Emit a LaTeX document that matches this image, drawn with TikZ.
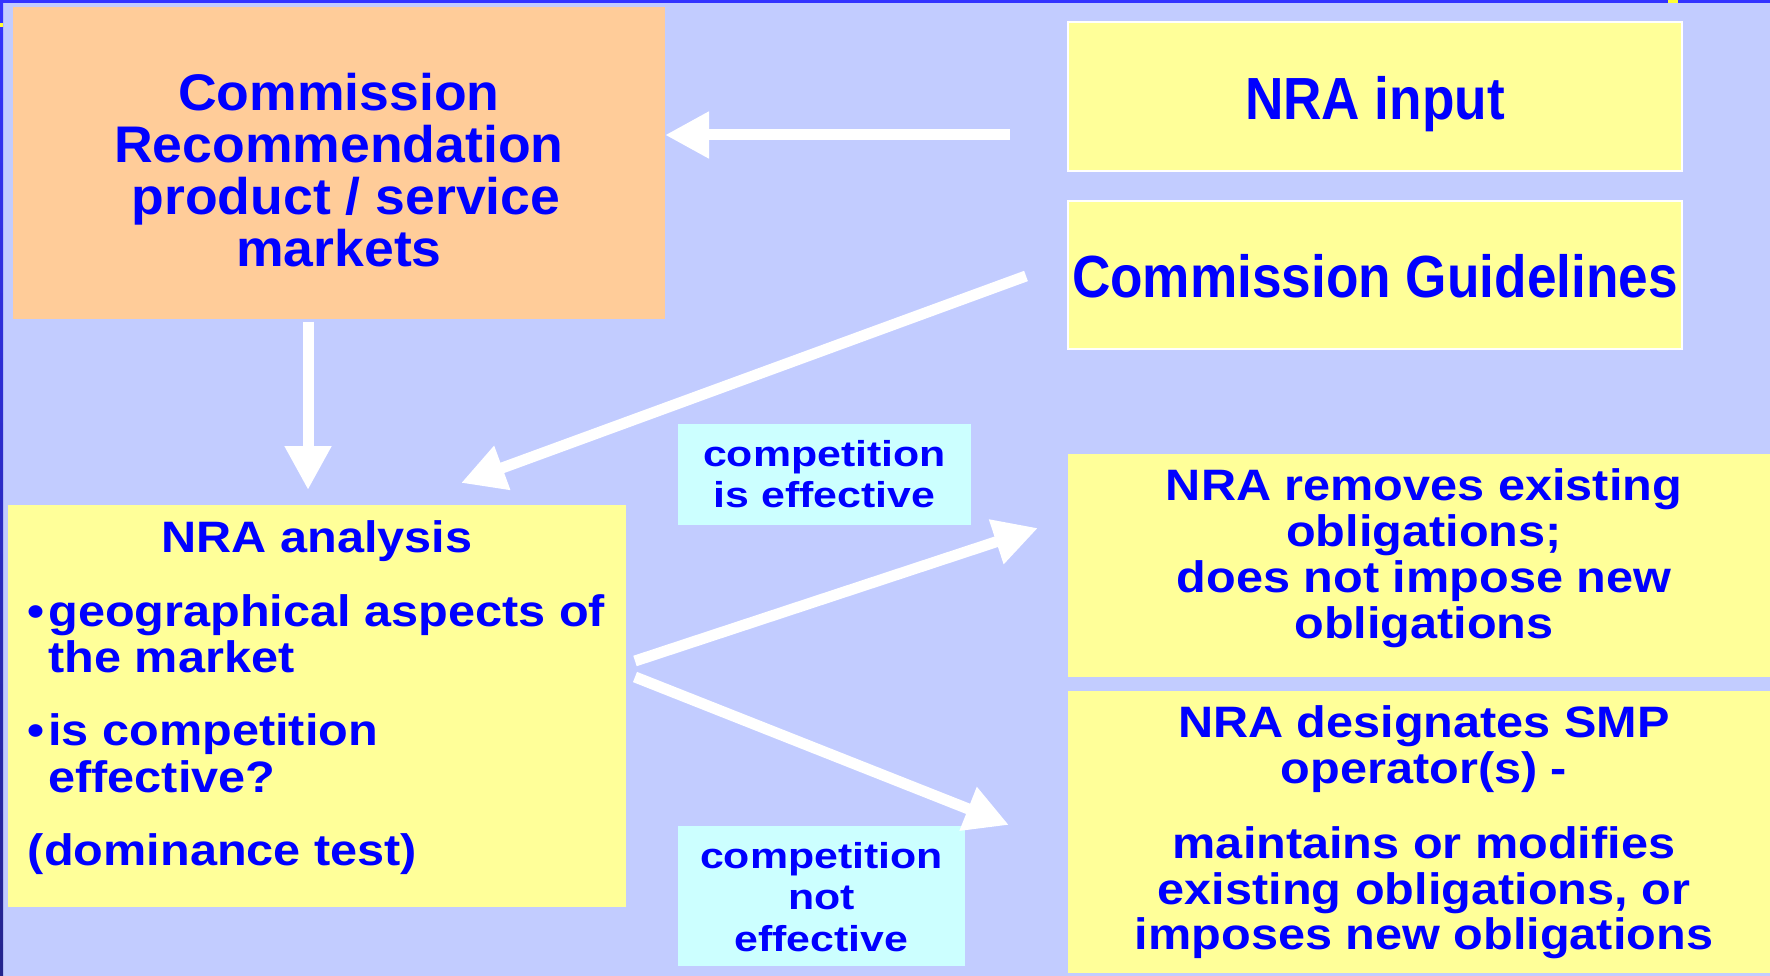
\documentclass[tikz,border=0pt]{standalone}
\usepackage{fontspec}
\setmainfont{Liberation Sans}
\newfontfamily\fnorm{Liberation Sans}[FakeStretch=1.04]
\newfontfamily\fcond{Liberation Sans}[FakeStretch=0.894]
\newfontfamily\fwide{Liberation Sans}[FakeStretch=1.105]
\newfontfamily\flab{Liberation Sans}[FakeStretch=1.19]
\usetikzlibrary{arrows.meta,calc}
\definecolor{bg}{HTML}{C2CCFF}
\definecolor{orangebox}{HTML}{FFCC99}
\definecolor{yellowbox}{HTML}{FFFF99}
\definecolor{cyanbox}{HTML}{CCFFFF}
\definecolor{txt}{HTML}{0000FF}
\definecolor{topblue}{HTML}{3333FF}
\definecolor{leftdark}{HTML}{24248C}
\definecolor{markyellow}{HTML}{FFFF33}
\newcommand\tbox[3]{\vbox to #2{\hsize=#1\relax\parindent=0pt\parskip=0pt\relax#3\vss}}
\newcommand\ctrtext{\leftskip=0pt plus 1fil\rightskip=0pt plus 1fil\parfillskip=0pt\relax}
\tikzset{
  box/.style={rectangle, inner sep=0pt, outer sep=0pt, text=txt, font=\bfseries},
  arr/.style={draw=white, line width=11pt, -{Triangle[length=44pt,width=44pt]}},
}
\begin{document}
\begin{tikzpicture}[x=1pt,y=-1pt]
\useasboundingbox (0,0) rectangle (1770,976);
\fill[bg] (0,0) rectangle (1770,976);
\fill[topblue] (0,0) rectangle (1770,3);
\shade[top color=topblue, bottom color=leftdark] (0,0) rectangle (3,976);
\fill[markyellow] (0,23) rectangle (3,27);
\fill[markyellow] (1668,0) rectangle (1678,3);

\node[box, fill=orangebox] (orange) at (339,163) {\tbox{652pt}{312pt}{\fnorm\fontsize{51.5}{52}\selectfont\ctrtext\vskip 65.9pt\relax Commission\break Recommendation\break \hspace*{14pt}product / service\break markets\par}};

\node[box, fill=yellowbox, draw=white, line width=1.5pt] (input) at (1375,96.5) {\tbox{614pt}{149pt}{\fcond\fontsize{59.5}{60}\selectfont\ctrtext\vskip 54.4pt\relax NRA input\par}};

\node[box, fill=yellowbox, draw=white, line width=1.5pt] (guide) at (1375,275) {\tbox{614pt}{148pt}{\fcond\fontsize{59.5}{60}\selectfont\ctrtext\vskip 53pt\relax Commission Guidelines\par}};

\node[box, fill=yellowbox] (analysis) at (317,706) {\tbox{618pt}{402pt}{\fwide\fontsize{44}{46.3}\selectfont\vskip 16pt\relax
\hbox to\hsize{\hss NRA analysis\hss}%
\parskip=27pt\relax
\leftskip=20pt\rightskip=0pt plus 1fil\relax
\hangindent=20.5pt\hangafter=1 \makebox[20.5pt][l]{•}geographical aspects of\break the market\par
\hangindent=20.5pt\hangafter=1 \makebox[20.5pt][l]{•}is competition\break effective?\par
(dominance test)\par}};

\node[box, fill=yellowbox] (removes) at (1419,565.5) {\tbox{702pt}{223pt}{\fwide\fontsize{44}{46}\selectfont\leftskip=10pt plus 1fil\rightskip=0pt plus 1fil\parfillskip=0pt\relax\vskip 14.3pt\relax NRA removes existing\break obligations;\break does not impose new\break obligations\par}};

\node[box, fill=yellowbox] (designates) at (1419,832) {\tbox{702pt}{282pt}{\fwide\fontsize{44}{45.6}\selectfont\leftskip=10pt plus 1fil\rightskip=0pt plus 1fil\parfillskip=0pt\relax\vskip 14.7pt\relax NRA designates SMP\parskip=30pt\relax\break operator(s) -\par maintains or modifies\break existing obligations, or\break imposes new obligations\par}};

\node[box, fill=cyanbox] (eff) at (824.5,474.5) {\tbox{293pt}{101pt}{\flab\fontsize{36}{40.5}\selectfont\ctrtext\vskip 16.8pt\relax competition\break is effective\par}};

\node[box, fill=cyanbox] (noteff) at (821.5,896) {\tbox{287pt}{140pt}{\flab\fontsize{36}{41.7}\selectfont\ctrtext\vskip 16.1pt\relax competition\break not\break effective\par}};

\coordinate (inTail) at ($(input.west)+(-58,38.5)$);
\draw[arr] (inTail) -- (inTail -| orange.east);

\coordinate (dnTop) at ($(orange.south west)!0.4525!(orange.south east)+(0,2.7)$);
\draw[arr] (dnTop) -- ($(dnTop |- analysis.north)+(0,-15)$);

\coordinate (gTail) at ($(guide.west)+(-42,1)$);
\draw[arr] (gTail) -- ($(analysis.north)+(144,-22)$);

\coordinate (effTail) at ($(analysis.east)+(9,-45)$);
\draw[arr] (effTail) -- ($(removes.west)+(-30,-37.5)$);

\coordinate (notTail) at ($(analysis.east)+(9,-29)$);
\draw[arr] (notTail) -- ($(designates.west)+(-59,-7)$);
\end{tikzpicture}
\end{document}
